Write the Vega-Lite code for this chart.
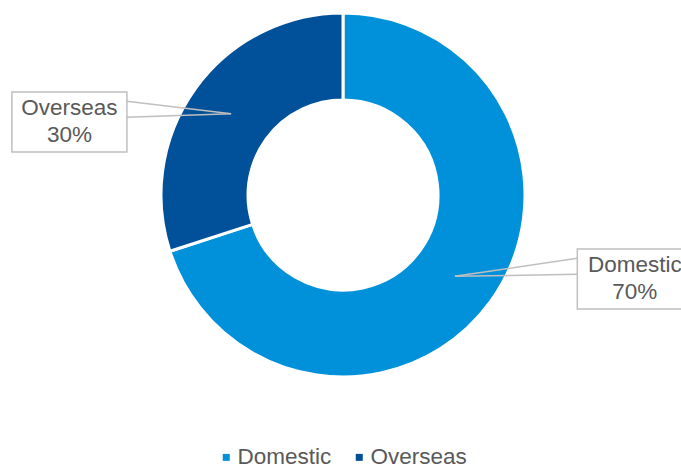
{
  "$schema": "https://vega.github.io/schema/vega-lite/v6.json",
  "width": 681,
  "height": 390,
  "padding": 0,
  "autosize": {"type": "pad"},
  "background": "white",
  "config": {"view": {"stroke": null}, "font": "Liberation Sans", "legend": {"layout": {"anchor": "middle"}}},
  "data": {"values": [
    {"category": "Domestic", "value": 70},
    {"category": "Overseas", "value": 30}
  ]},
  "transform": [
    {"joinaggregate": [{"op": "sum", "field": "value", "as": "total"}]},
    {"window": [{"op": "sum", "field": "value", "as": "cum"}], "sort": [{"field": "category"}], "frame": [null, 0]},
    {"calculate": "(datum.cum - datum.value/2) / datum.total * 2 * PI", "as": "mid"},
    {"calculate": "1.92*sin(datum.mid) + 0.05", "as": "lx"},
    {"calculate": "0.734*cos(datum.mid) - 0.03", "as": "ly"},
    {"calculate": "0.76*sin(datum.mid)", "as": "tx"},
    {"calculate": "0.76*cos(datum.mid)", "as": "ty"},
    {"calculate": "datum.lx - (sin(datum.mid) > 0 ? 1 : -1) * 0.316", "as": "bx"},
    {"calculate": "datum.ly + 0.07 + 0.044", "as": "by1"},
    {"calculate": "datum.ly + 0.07 - 0.044", "as": "by2"},
    {"calculate": "datum.category + '\\n' + format(datum.value/datum.total, '.0%')", "as": "label"}
  ],
  "layer": [
    {
      "mark": {"type": "arc", "outerRadius": 182, "innerRadius": 95, "stroke": "white", "strokeWidth": 3},
      "encoding": {
        "x": {"datum": 0, "type": "quantitative", "scale": {"domain": [-1.8846, 1.8571], "nice": false, "zero": false}, "axis": null},
        "y": {"datum": 0, "type": "quantitative", "scale": {"domain": [-1.0714, 1.0714], "nice": false, "zero": false}, "axis": null},
        "theta": {"field": "value", "type": "quantitative", "stack": true},
        "color": {
          "field": "category", "type": "nominal",
          "scale": {"domain": ["Domestic", "Overseas"], "range": ["#0091DA", "#00519A"]},
          "legend": {
            "title": null, "orient": "bottom", "direction": "horizontal", "offset": 56, "padding": 0,
            "symbolType": "square", "symbolSize": 49, "symbolStrokeWidth": 0,
            "labelFontSize": 22.5, "labelColor": "#595959", "labelFont": "Liberation Sans",
            "labelOffset": 0, "columnPadding": 16
          }
        },
        "order": {"field": "category"}
      }
    },
    {
      "mark": {"type": "rule", "stroke": "#BFBFBF", "strokeWidth": 1.5},
      "encoding": {
        "x": {"field": "tx", "type": "quantitative"},
        "y": {"field": "ty", "type": "quantitative"},
        "x2": {"field": "bx"},
        "y2": {"field": "by1"}
      }
    },
    {
      "mark": {"type": "rule", "stroke": "#BFBFBF", "strokeWidth": 1.5},
      "encoding": {
        "x": {"field": "tx", "type": "quantitative"},
        "y": {"field": "ty", "type": "quantitative"},
        "x2": {"field": "bx"},
        "y2": {"field": "by2"}
      }
    },
    {
      "mark": {"type": "point", "shape": "M-1,-0.522H1V0.522H-1Z", "size": 13225, "filled": true, "fill": "white", "stroke": "#BFBFBF", "strokeWidth": 1.5, "opacity": 1},
      "encoding": {
        "x": {"field": "lx", "type": "quantitative"},
        "y": {"field": "ly", "type": "quantitative"}
      }
    },
    {
      "mark": {"type": "text", "lineBreak": "\n", "fontSize": 22.5, "lineHeight": 27, "dy": -13.5, "fill": "#595959", "align": "center", "baseline": "middle", "font": "Liberation Sans"},
      "encoding": {
        "x": {"field": "lx", "type": "quantitative"},
        "y": {"field": "ly", "type": "quantitative"},
        "text": {"field": "label"}
      }
    }
  ]
}
